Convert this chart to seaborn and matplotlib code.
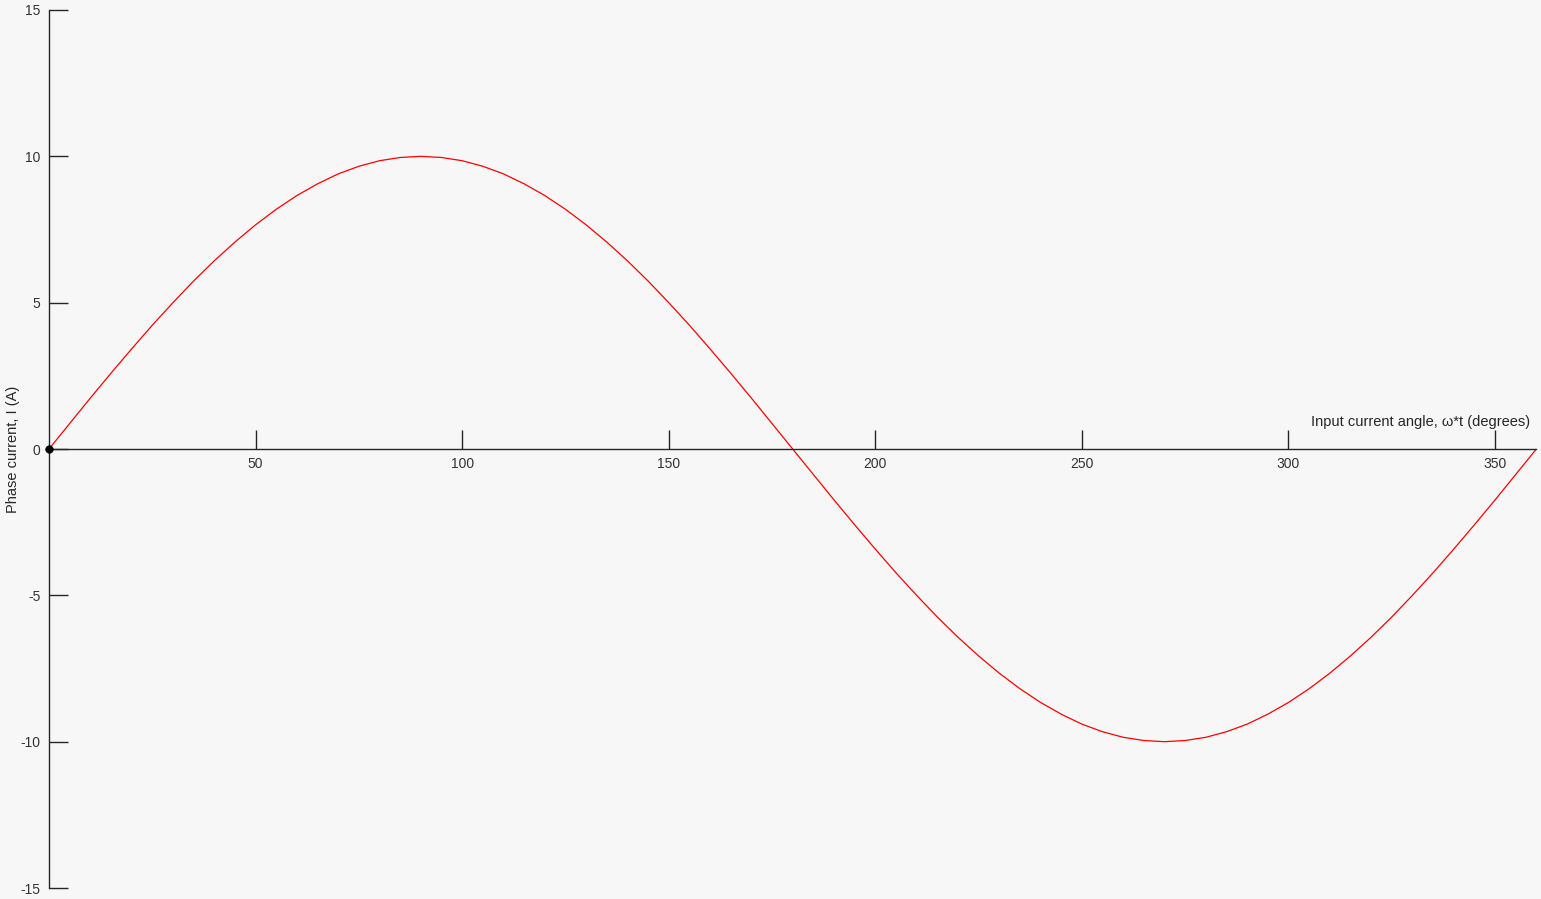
import matplotlib
matplotlib.use("Agg")
import matplotlib.pyplot as plt
import seaborn as sns

angle_deg = list(range(0, 361, 5))
phase_current = [
    0.00, 0.87, 1.74, 2.59, 3.42, 4.23, 5.00, 5.74, 6.43, 7.07,
    7.66, 8.19, 8.66, 9.06, 9.40, 9.66, 9.85, 9.96, 10.00, 9.96,
    9.85, 9.66, 9.40, 9.06, 8.66, 8.19, 7.66, 7.07, 6.43, 5.74,
    5.00, 4.23, 3.42, 2.59, 1.74, 0.87, 0.00, -0.87, -1.74, -2.59,
    -3.42, -4.23, -5.00, -5.74, -6.43, -7.07, -7.66, -8.19, -8.66, -9.06,
    -9.40, -9.66, -9.85, -9.96, -10.00, -9.96, -9.85, -9.66, -9.40, -9.06,
    -8.66, -8.19, -7.66, -7.07, -6.43, -5.74, -5.00, -4.23, -3.42, -2.59,
    -1.74, -0.87, 0.00,
]
x_ticks = [50, 100, 150, 200, 250, 300, 350]
y_ticks = [-15, -10, -5, 0, 5, 10, 15]
origin_x = [0]
origin_y = [0]

sns.set_style("white", {"axes.facecolor": "#f7f7f7", "figure.facecolor": "#f7f7f7"})
plt.rcParams["font.family"] = ["Liberation Sans", "DejaVu Sans"]
plt.rcParams["axes.unicode_minus"] = False

fig = plt.figure(figsize=(15.41, 8.99), dpi=100)
ax = fig.add_axes([0.0318, 0.0122, 0.997 - 0.0318, 0.9889 - 0.0122])

sns.lineplot(x=angle_deg, y=phase_current, color="red", linewidth=0.9, ax=ax)
sns.scatterplot(x=origin_x, y=origin_y, color="black", s=30, zorder=5,
                edgecolor="black", ax=ax, clip_on=False)

ax.set_xlim(0, 360)
ax.set_ylim(-15, 15)

# Оси через начало координат
ax.spines["left"].set_position(("data", 0))
ax.spines["bottom"].set_position(("data", 0))
ax.spines["top"].set_visible(False)
ax.spines["right"].set_visible(False)
for side in ["left", "bottom"]:
    ax.spines[side].set_color("#262626")
    ax.spines[side].set_linewidth(1.0)

ax.set_xticks(x_ticks)
ax.set_yticks(y_ticks)
ax.tick_params(axis="both", direction="in", length=14, width=1, color="#262626",
               labelsize=10, labelcolor="#333333")
ax.tick_params(axis="x", pad=6)
ax.tick_params(axis="y", pad=6)
ax.yaxis.set_ticks_position("left")
ax.xaxis.set_ticks_position("bottom")

ax.set_xlabel("")
ax.set_ylabel("")
ax.text(358.5, 0.68, "Input current angle, ω*t (degrees)", ha="right", va="bottom",
        fontsize=10.5, color="#262626")
fig.text(0.0085, 0.5, "Phase current, I (A)", rotation=90, ha="center", va="center",
         fontsize=10.5, color="#262626")

fig.savefig("out.png", dpi=100, facecolor="#f7f7f7")
